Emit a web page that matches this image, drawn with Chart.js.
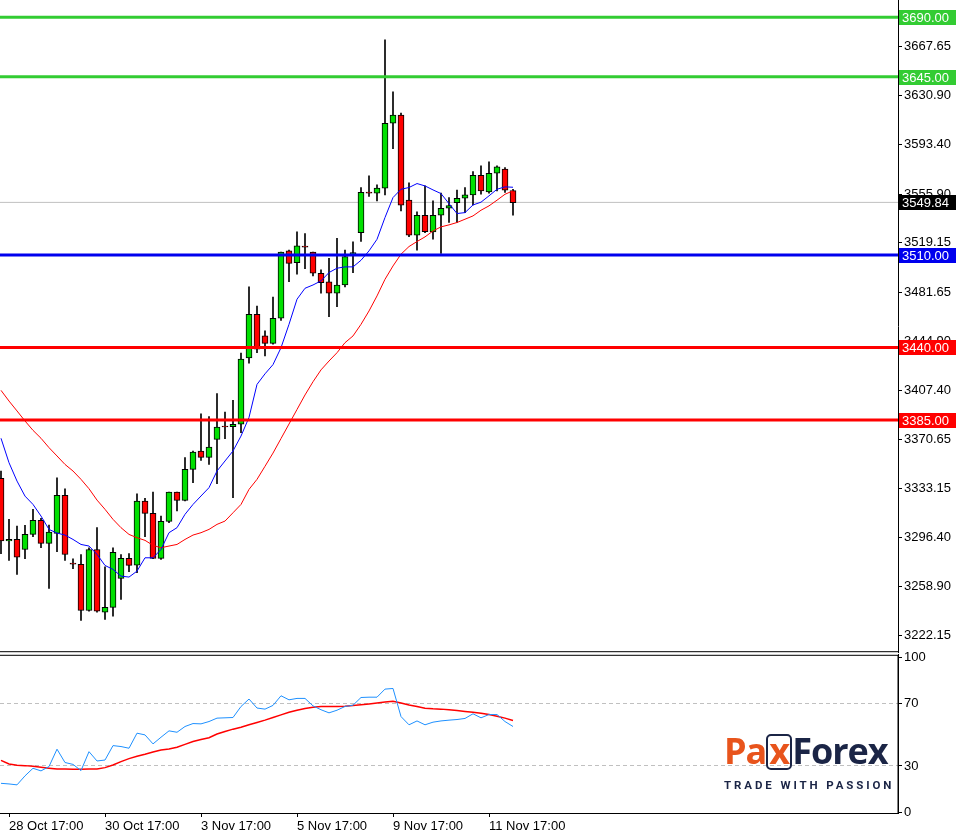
<!DOCTYPE html>
<html><head><meta charset="utf-8">
<script src="https://cdn.jsdelivr.net/npm/chart.js@4"></script>
<style>
body{margin:0;background:#fff;width:962px;height:833px;overflow:hidden;position:relative;font-family:"Liberation Sans",Arial,sans-serif}
#c1{position:absolute;left:0;top:-9px}
#c2{position:absolute;left:0;top:645px}
#logo{position:absolute;left:724px;top:731px;width:170px;white-space:nowrap}
#logo .brand{font-family:"Open Sans",sans-serif;font-weight:700;font-size:36px;letter-spacing:-1px;line-height:40px;height:40px}
#logo .pax{color:#e8541c}
#logo .x{color:#e8541c;display:inline-block;border:2px solid #1b2546;border-radius:5px;line-height:30px;height:32px;padding:0 1px;vertical-align:top;margin-top:3px}
#logo .forex{color:#1b2546}
#logo .tag{font-family:Roboto,sans-serif;font-weight:700;font-size:11.5px;letter-spacing:2.9px;color:#1b2546;margin-top:7px}
</style></head><body>
<canvas id="c1" width="962" height="671"></canvas>
<canvas id="c2" width="962" height="188"></canvas>
<div id="logo"><div class="brand"><span class="pax">Pa</span><span class="x">x</span><span class="forex">Forex</span></div><div class="tag">TRADE WITH PASSION</div></div>
<script>
const opens=[3340.8,3293.4,3294.6,3287.0,3298.4,3309.0,3291.6,3299.2,3328.0,3276.6,3275.7,3240.8,3287.0,3239.6,3243.1,3265.1,3280.2,3275.2,3323.7,3314.3,3280.2,3308.3,3330.5,3324.2,3347.7,3361.6,3356.8,3370.4,3380.4,3380.0,3381.8,3432.0,3465.1,3448.7,3443.1,3462.1,3513.1,3504.2,3516.8,3512.3,3496.2,3489.6,3481.0,3487.3,3510.8,3527.0,3557.7,3556.8,3560.6,3609.8,3615.9,3551.5,3525.0,3540.1,3527.5,3540.1,3545.4,3549.7,3553.0,3555.5,3570.4,3557.8,3571.9,3575.0,3558.8];
const highs=[3346.4,3309.8,3304.7,3305.2,3317.3,3310.5,3305.5,3341.3,3333.0,3280.0,3283.2,3288.3,3303.5,3273.9,3288.3,3283.2,3283.8,3329.2,3325.7,3330.5,3312.3,3330.5,3330.5,3356.5,3361.6,3389.8,3387.6,3405.0,3391.0,3400.0,3435.8,3485.8,3471.4,3452.5,3478.2,3512.3,3513.8,3527.5,3526.2,3512.3,3498.7,3507.5,3522.7,3513.8,3519.9,3561.1,3569.9,3563.1,3673.0,3633.6,3617.4,3564.6,3542.6,3562.3,3551.0,3556.8,3553.5,3559.1,3561.1,3573.2,3577.5,3580.5,3577.5,3576.2,3559.8];
const lows=[3283.8,3278.7,3268.1,3280.0,3296.6,3288.3,3257.5,3285.3,3278.7,3272.4,3233.2,3240.3,3239.6,3234.0,3236.5,3249.1,3270.1,3269.4,3296.6,3280.0,3279.5,3307.3,3316.1,3323.7,3337.6,3354.5,3351.4,3336.8,3370.9,3326.2,3375.4,3428.0,3436.0,3433.5,3442.4,3460.5,3489.8,3495.4,3499.7,3494.1,3481.0,3463.3,3470.9,3485.8,3496.7,3520.2,3554.3,3551.0,3555.5,3590.6,3543.4,3523.9,3513.6,3527.0,3521.9,3511.1,3534.6,3534.6,3542.1,3547.9,3556.0,3556.8,3558.6,3557.3,3540.1];
const closes=[3293.4,3294.6,3281.2,3298.4,3309.0,3291.6,3300.2,3328.0,3283.2,3275.8,3240.8,3287.0,3240.3,3243.1,3284.8,3280.2,3274.9,3323.7,3314.3,3280.2,3308.3,3330.5,3324.2,3347.7,3360.8,3356.8,3364.6,3379.7,3379.8,3381.8,3431.2,3465.1,3438.6,3443.1,3462.1,3512.3,3503.7,3516.9,3516.0,3496.2,3489.1,3481.0,3487.3,3508.8,3511.8,3557.5,3556.9,3560.6,3609.8,3615.9,3547.7,3525.0,3540.1,3527.7,3540.1,3545.4,3547.4,3553.0,3555.5,3570.4,3558.6,3571.9,3576.7,3559.1,3549.7];
const maFast=[3371.2,3352.7,3338.8,3327.4,3321.1,3312.3,3302.2,3299.4,3297.9,3294.6,3290.8,3289.6,3283.3,3274.9,3271.9,3266.8,3266.1,3270.6,3280.7,3280.7,3287.0,3299.7,3303.5,3313.6,3321.1,3327.5,3333.8,3346.4,3354.0,3361.6,3372.9,3387.0,3412.0,3420.0,3427.0,3439.8,3457.5,3476.5,3484.8,3487.3,3490.4,3496.7,3500.0,3501.0,3501.0,3506.0,3513.1,3521.9,3538.4,3553.5,3559.8,3561.1,3564.1,3562.3,3559.3,3556.5,3548.9,3541.4,3542.1,3547.9,3550.0,3554.8,3559.8,3561.6,3561.3];
const maSlow=[3407.5,3399.4,3391.9,3384.3,3377.2,3371.2,3364.1,3357.8,3351.4,3346.4,3340.1,3333.0,3324.4,3317.4,3309.8,3303.5,3298.4,3295.9,3293.9,3290.1,3288.3,3289.6,3290.8,3294.6,3297.9,3299.7,3302.2,3306.0,3308.5,3314.8,3321.1,3332.5,3340.1,3350.0,3360.0,3371.0,3382.0,3393.0,3404.0,3414.0,3423.0,3429.7,3436.0,3443.6,3448.7,3457.5,3467.6,3479.0,3491.6,3501.7,3510.6,3516.4,3520.2,3523.7,3528.2,3531.3,3532.8,3534.6,3537.1,3539.6,3543.9,3547.2,3551.5,3556.0,3558.6];
const osc=[18.8,18.4,17.8,23.6,28.5,26.8,29.6,40.8,32.2,31.0,27.0,39.2,33.2,33.8,43.1,42.5,41.4,51.1,50.0,44.2,48.5,52.6,51.7,55.4,57.3,57.1,58.6,60.8,61.0,61.2,68.3,73.1,67.3,66.6,69.0,75.2,72.6,73.5,73.5,68.7,66.2,64.2,65.9,68.3,69.1,74.1,74.3,74.3,79.5,79.9,61.8,56.5,59.0,56.5,58.2,59.0,59.5,59.9,60.6,63.6,61.0,63.1,63.1,58.6,55.4];
const oscSignal=[33.6,31.3,30.4,30.2,29.8,29.1,28.5,28.0,28.0,27.8,27.8,28.0,28.0,28.9,30.6,32.8,34.7,36.2,37.5,39.0,40.3,40.9,42.0,43.9,45.7,47.0,48.2,50.6,52.2,53.7,54.9,56.5,58.0,59.5,61.2,62.9,64.6,65.9,67.0,67.8,68.3,68.3,68.3,68.5,69.0,69.4,69.9,70.5,71.2,71.6,70.5,69.2,68.3,67.2,66.8,66.6,66.2,65.7,65.1,64.6,64.0,63.1,62.0,60.8,59.3];
const xTickIdx=[1,13,25,37,49,61];
const xTickLabels=["28 Oct 17:00","30 Oct 17:00","3 Nov 17:00","5 Nov 17:00","9 Nov 17:00","11 Nov 17:00"];
const yTicks=[3667.65,3630.90,3593.40,3555.90,3519.15,3481.65,3444.90,3407.40,3370.65,3333.15,3296.40,3258.90,3222.15];
const levelValues=[3690,3645,3510,3440,3385];
const levelColors=["#33cc33","#33cc33","#0000ee","#ff0000","#ff0000"];
const lastPrice=3549.84;
const oscTicks=[0,30,70,100];

const XMIN=-0.125, XMAX=112.125;
const FONT={family:"'Liberation Sans', Arial, sans-serif",size:13};
const idx=opens.map((_,i)=>i);
const ds=[];
levelValues.forEach((v,k)=>ds.push({type:'line',data:[{x:XMIN,y:v},{x:XMAX,y:v}],borderColor:levelColors[k],borderWidth:3,pointRadius:0,order:0}));
ds.push({type:'line',data:idx.map(i=>({x:i,y:maFast[i]})),borderColor:'#0000ff',borderWidth:1,pointRadius:0,order:1});
ds.push({type:'line',data:idx.map(i=>({x:i,y:maSlow[i]})),borderColor:'#ff0000',borderWidth:1,pointRadius:0,order:1});
ds.push({type:'bar',data:idx.map(i=>({x:i,y:[opens[i],closes[i]]})),backgroundColor:idx.map(i=>closes[i]>=opens[i]?'#00e000':'#ff0000'),borderColor:'#000',borderWidth:1,borderSkipped:false,barThickness:6,grouped:false,order:2});
ds.push({type:'bar',data:idx.map(i=>({x:i,y:[lows[i],highs[i]]})),backgroundColor:'#000',barThickness:1,grouped:false,order:3});
ds.push({type:'line',data:[{x:XMIN,y:lastPrice},{x:XMAX,y:lastPrice}],borderColor:'#c0c0c0',borderWidth:1,pointRadius:0,order:4});

const boxes={id:'boxes',afterDraw(c){
  const ctx=c.ctx,y=c.scales.y,a=c.chartArea;
  ctx.save();
  ctx.strokeStyle='#000';ctx.lineWidth=1;
  ctx.beginPath();ctx.moveTo(0,a.bottom-0.5);ctx.lineTo(a.right,a.bottom-0.5);ctx.stroke();
  ctx.font="13px 'Liberation Sans', Arial";ctx.textBaseline='middle';
  const draw=(v,bg,label)=>{const py=Math.round(y.getPixelForValue(v));ctx.fillStyle=bg;ctx.fillRect(a.right+1,py-7,57,15);ctx.fillStyle='#fff';ctx.fillText(label,a.right+4,py+1);};
  levelValues.forEach((v,k)=>draw(v,levelColors[k],v.toFixed(2)));
  draw(lastPrice,'#000',lastPrice.toFixed(2));
  ctx.restore();
}};
new Chart(document.getElementById('c1'),{
  type:'bar',data:{datasets:ds},
  options:{responsive:false,animation:false,events:[],layout:{padding:0},
    plugins:{legend:{display:false},tooltip:{enabled:false}},
    scales:{
      x:{type:'linear',min:XMIN,max:XMAX,offset:false,display:false},
      y:{position:'right',min:3209.2,max:3702.5,
        afterBuildTicks:s=>{s.ticks=yTicks.map(v=>({value:v}));},
        afterFit:s=>{s.width=64;},
        ticks:{color:'#000',font:FONT,padding:2,callback:v=>v.toFixed(2)},
        grid:{drawOnChartArea:false,tickLength:4,color:'#000'},
        border:{display:true,color:'#000'}}
    }},
  plugins:[boxes]
});

const frame={id:'frame',afterDraw(c){const ctx=c.ctx,a=c.chartArea;ctx.save();ctx.strokeStyle='#000';ctx.lineWidth=1;ctx.strokeRect(-1,a.top+0.5,a.right+1,a.bottom-a.top);ctx.restore();}};
new Chart(document.getElementById('c2'),{
  type:'line',
  data:{datasets:[
    {data:idx.map(i=>({x:i,y:osc[i]})),borderColor:'#1e90ff',borderWidth:1,pointRadius:0},
    {data:idx.map(i=>({x:i,y:oscSignal[i]})),borderColor:'#ff0000',borderWidth:1.5,pointRadius:0}
  ]},
  options:{responsive:false,animation:false,events:[],layout:{padding:0},
    plugins:{legend:{display:false},tooltip:{enabled:false}},
    scales:{
      x:{type:'linear',min:XMIN,max:XMAX,offset:false,
        afterBuildTicks:s=>{s.ticks=xTickIdx.map(v=>({value:v}));},
        afterFit:s=>{s.height=20;},
        ticks:{color:'#000',font:FONT,align:'start',padding:2,maxRotation:0,autoSkip:false,callback:(v)=>xTickLabels[xTickIdx.indexOf(v)]},
        grid:{drawOnChartArea:false,tickLength:4,color:'#000'},border:{display:true,color:'#000'}},
      y:{position:'right',min:-0.32,max:101.6,
        afterBuildTicks:s=>{s.ticks=oscTicks.map(v=>({value:v}));},
        afterFit:s=>{s.width=64;},
        ticks:{color:'#000',font:FONT,padding:2},
        grid:{color:c=>(c.tick&&(c.tick.value===30||c.tick.value===70))?'#c0c0c0':'rgba(0,0,0,0)',tickLength:4,tickColor:'#000'},
        border:{display:true,color:'#000',dash:[4,3]}}
    }},
  plugins:[frame]
});
</script></body></html>
